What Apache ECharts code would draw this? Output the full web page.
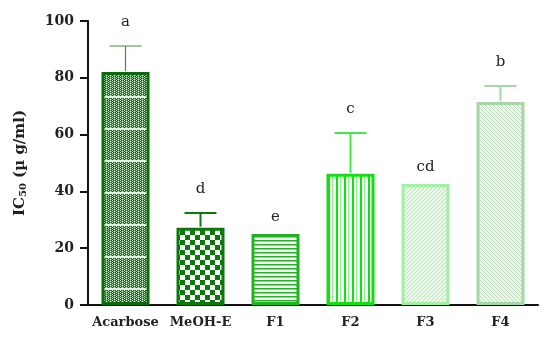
<!DOCTYPE html>
<html><head><meta charset="utf-8">
<script src="https://cdn.jsdelivr.net/npm/echarts@6/dist/echarts.min.js"></script>
<style>html,body{margin:0;padding:0;background:#fff}#c{width:550px;height:349px}</style>
</head><body><div id="c"></div>
<script>
const categories = ['Acarbose', 'MeOH-E', 'F1', 'F2', 'F3', 'F4'];
const means = [82, 27.2, 25, 46.2, 42.6, 71.5];
const errors = [9.2, 5.2, 0, 14.4, 0, 5.6];
const letters = ['a', 'd', 'e', 'c', 'cd', 'b'];
const yTicks = [0, 20, 40, 60, 80, 100];

function tile(w, h, draw) {
  const c = document.createElement('canvas');
  c.width = w; c.height = h;
  const g = c.getContext('2d');
  g.fillStyle = '#ffffff'; g.fillRect(0, 0, w, h);
  draw(g);
  return { image: c, repeat: 'repeat' };
}
const patterns = [
  tile(4, 32, g => {
    for (let y = 0; y < 32; y++) for (let x = 0; x < 4; x++) {
      if (y < 2) g.fillStyle = '#e4f1e4';
      else if ((y % 2 === 0 && x % 4 === 0) || (y % 2 === 1 && x % 4 === 2)) g.fillStyle = '#d6ead6';
      else if ((x + y) % 2 === 0) g.fillStyle = '#5f9f5f';
      else g.fillStyle = '#0b650b';
      g.fillRect(x, y, 1, 1);
    }
  }),
  tile(10, 10, g => {
    g.fillStyle = '#0c780c';
    g.fillRect(0, 0, 5, 5); g.fillRect(5, 5, 5, 5);
  }),
  tile(1, 4, g => {
    g.fillStyle = '#1fb41f'; g.fillRect(0, 0, 1, 1);
    g.fillStyle = '#8fd88f'; g.fillRect(0, 1, 1, 1);
  }),
  tile(8, 1, g => {
    g.fillStyle = '#10e010'; g.fillRect(0, 0, 2, 1);
    g.fillStyle = '#8ef08e'; g.fillRect(4, 0, 1, 1);
  }),
  tile(4, 4, g => {
    g.fillStyle = '#e6fae6'; g.fillRect(0, 0, 4, 4);
    g.fillStyle = '#aeeeae';
    for (let i = 0; i < 4; i++) g.fillRect(i, 3 - i, 1, 1);
  }),
  tile(4, 4, g => {
    g.fillStyle = '#ecf5ec'; g.fillRect(0, 0, 4, 4);
    g.fillStyle = '#bcdcbc';
    for (let i = 0; i < 4; i++) g.fillRect(i, i, 1, 1);
  })
];
const borderColors = ['#0b6b0b', '#0c780c', '#1fb41f', '#12e012', '#a2f0a2', '#a6d6a6'];
const errColors = ['#4a8a3a', '#0c780c', '#1fb41f', '#44e844', '#a2f0a2', '#a6d6a6'];
const errWidths = [1.2, 2, 2, 2, 2, 2];

const chart = echarts.init(document.getElementById('c'), null, { renderer: 'canvas' });
const serif = 'DejaVu Serif';
chart.setOption({
  animation: false,
  grid: { left: 88, right: 12, top: 21, bottom: 44 },
  xAxis: {
    type: 'category', data: categories,
    axisLine: { lineStyle: { color: '#111', width: 2 } },
    axisTick: { alignWithLabel: true, length: 6, lineStyle: { color: '#111', width: 2 } },
    axisLabel: { fontFamily: serif, fontWeight: 'bold', fontSize: 13, color: '#222', margin: 11, interval: 0 }
  },
  yAxis: {
    type: 'value', min: yTicks[0], max: yTicks[yTicks.length - 1], interval: 20,
    splitLine: { show: false },
    axisLine: { show: true, lineStyle: { color: '#111', width: 2 } },
    axisTick: { show: true, length: 8, lineStyle: { color: '#111', width: 2 } },
    axisLabel: { fontFamily: serif, fontWeight: 'bold', fontSize: 14, color: '#222', margin: 14 },
    name: '{a|IC}{s|50}{a| (µ g/ml)}',
    nameLocation: 'middle', nameGap: 60, nameRotate: 90,
    nameTextStyle: {
      rich: {
        a: { fontFamily: serif, fontWeight: 'bold', fontSize: 15, color: '#222' },
        s: { fontFamily: serif, fontWeight: 'bold', fontSize: 10, color: '#222', verticalAlign: 'bottom', padding: [6, 0, 0, 0] }
      }
    }
  },
  series: [
    {
      type: 'bar', barWidth: 48,
      data: means.map((v, i) => ({
        value: v,
        itemStyle: { color: patterns[i], borderColor: borderColors[i], borderWidth: 3 }
      }))
    },
    {
      type: 'custom',
      data: means.map((v, i) => [i, v, errors[i]]),
      renderItem: function (params, api) {
        const i = api.value(0), m = api.value(1), e = api.value(2);
        const p0 = api.coord([i, m]);
        const p1 = api.coord([i, m + e]);
        const children = [];
        if (e > 0) {
          const st = { stroke: errColors[i], lineWidth: errWidths[i] };
          children.push({ type: 'line', shape: { x1: p0[0], y1: p0[1] - 1, x2: p1[0], y2: p1[1] }, style: st });
          children.push({ type: 'line', shape: { x1: p1[0] - 16, y1: p1[1], x2: p1[0] + 16, y2: p1[1] }, style: st });
        }
        children.push({
          type: 'text',
          style: {
            text: letters[i], x: p1[0], y: p1[1] - (e > 0 ? 24 : 17),
            align: 'center', verticalAlign: 'middle',
            fontFamily: serif, fontSize: 15, fill: '#222'
          }
        });
        return { type: 'group', children: children };
      },
      z: 5
    }
  ]
});
</script>
</body></html>
